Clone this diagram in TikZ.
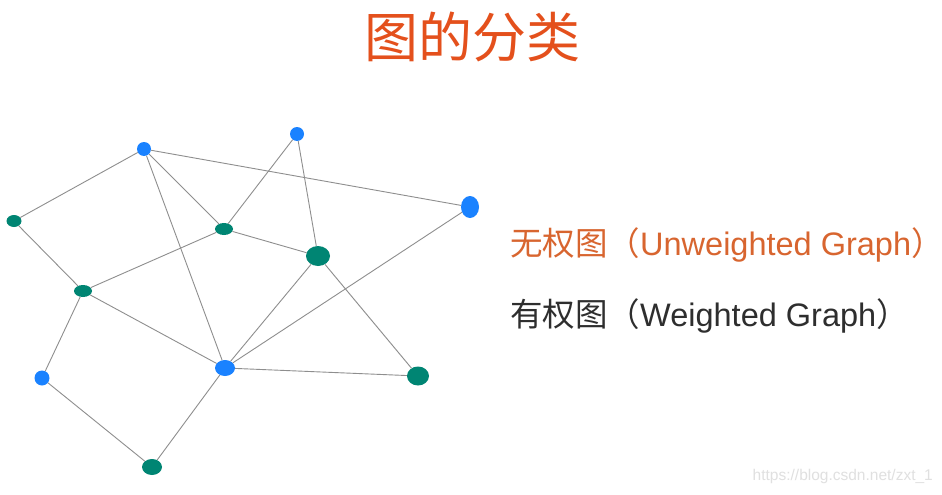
\documentclass[tikz,border=0pt]{standalone}
\usepackage{fontspec}
\setmainfont{Liberation Sans}
\newfontfamily\cjk{Noto Sans CJK SC}
\usetikzlibrary{shapes.geometric}

\definecolor{titlered}{HTML}{E4501C}
\definecolor{labelorange}{HTML}{D8652F}
\definecolor{labelgray}{HTML}{2E2E2E}
\definecolor{nodeblue}{HTML}{1A82FF}
\definecolor{nodegreen}{HTML}{008573}
\definecolor{edgegray}{HTML}{8E8E8E}

\begin{document}
\begin{tikzpicture}[x=1pt, y=-1pt,
    vtx/.style={ellipse, inner sep=0pt},
    bvtx/.style={vtx, fill=nodeblue},
    gvtx/.style={vtx, fill=nodegreen},
    edge/.style={draw=edgegray, line width=0.9pt}]
    \useasboundingbox[fill=white] (0,0) rectangle (942,495);

    % Draw title
    \node (title) at (472,37) {\fontsize{54}{60}\selectfont\color{titlered}\cjk 图的分类};

    % Draw vertices
    \node[bvtx, minimum width=14, minimum height=14] (a) at (144,149) {};
    \node[bvtx, minimum width=14, minimum height=14] (b) at (297,134) {};
    \node[bvtx, minimum width=18, minimum height=22] (c) at (470,207) {};
    \node[gvtx, minimum width=15, minimum height=12] (d) at (14,221) {};
    \node[gvtx, minimum width=18, minimum height=12] (e) at (224,229) {};
    \node[gvtx, minimum width=24, minimum height=20] (f) at (318,256) {};
    \node[gvtx, minimum width=18, minimum height=12] (g) at (83,291) {};
    \node[bvtx, minimum width=15, minimum height=15] (h) at (42,378) {};
    \node[bvtx, minimum width=20, minimum height=16] (i) at (225,368) {};
    \node[gvtx, minimum width=22, minimum height=19] (j) at (418,376) {};
    \node[gvtx, minimum width=20, minimum height=16] (k) at (152,467) {};

    % Draw edges
    \foreach \u/\v in {a/d, a/e, a/i, a/c, b/e, b/f, d/g, e/g, e/f,
                       g/i, g/h, h/k, k/i, i/f, i/c, i/j, f/j}
        \draw[edge] (\u) -- (\v);

    % Draw labels
    \node[anchor=west, text=labelorange, inner sep=0pt] (unw) at (510,245)
        {\fontsize{32.5}{38}\selectfont{\cjk 无权图（}Unweighted Graph{\cjk ）}};
    \node[anchor=west, text=labelgray, inner sep=0pt] (wgt) at (510,316)
        {\fontsize{32.5}{38}\selectfont{\cjk 有权图（}Weighted Graph{\cjk ）}};

    % Watermark
    \node[anchor=east, text=black!12, inner sep=0pt] (mark) at (933,476)
        {\fontsize{15.5}{18}\selectfont https://blog.csdn.net/zxt\_1};
\end{tikzpicture}
\end{document}
